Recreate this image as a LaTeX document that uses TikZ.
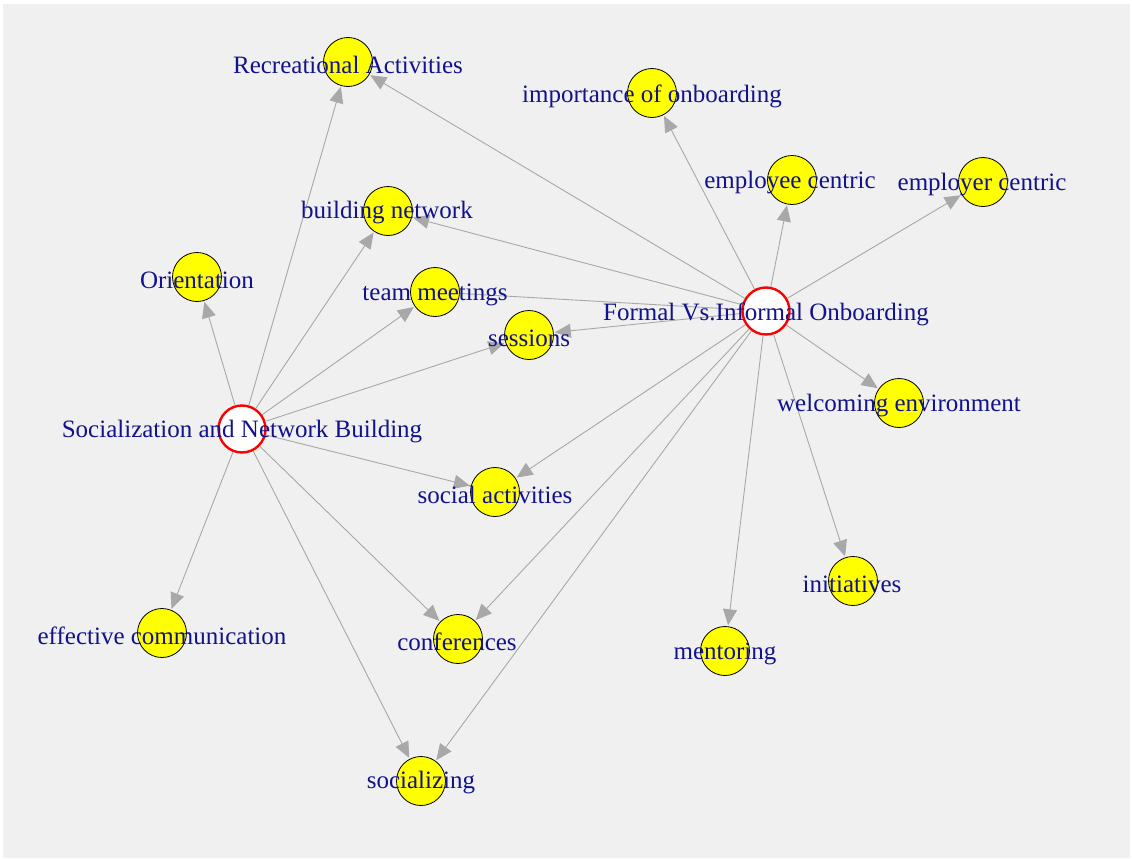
\documentclass[tikz,border=0pt]{standalone}
\usepackage{fontspec}
\setmainfont{Liberation Serif}
\usetikzlibrary{arrows.meta}
\definecolor{bggray}{RGB}{240,240,240}
\definecolor{edgegray}{RGB}{168,168,168}
\definecolor{labblue}{RGB}{18,18,140}
\definecolor{vyellow}{RGB}{255,255,0}
\tikzset{
  leaf/.style={circle,draw=black,line width=0.8pt,fill=vyellow,minimum size=49pt,inner sep=0pt},
  hub/.style={circle,draw=red,line width=2.4pt,fill=white,minimum size=47pt,inner sep=0pt},
  lab/.style={text=labblue,font=\fontsize{25}{30}\selectfont,inner sep=0pt,anchor=center},
  edge/.style={draw=edgegray,line width=0.9pt,-{Triangle[length=16pt,width=14pt]},shorten >=1pt},
  plain/.style={draw=edgegray,line width=0.9pt}
}
\begin{document}
\begin{tikzpicture}[x=1pt,y=-1pt]
\useasboundingbox (0,0) rectangle (1132,859);
\fill[bggray] (3,4) rectangle (1130,858);
% vertices
\node[hub]  (S)   at (242,429) {};
\node[hub]  (F)   at (766,311) {};
\node[leaf] (rec) at (348,62) {};
\node[leaf] (imp) at (652,93) {};
\node[leaf] (eec) at (792,180) {};
\node[leaf] (erc) at (983,182) {};
\node[leaf] (bn)  at (388,211) {};
\node[leaf] (ori) at (197,277) {};
\node[leaf] (tm)  at (435,292) {};
\node[leaf] (ses) at (529,335) {};
\node[leaf] (wel) at (899,403) {};
\node[leaf] (soa) at (495,492) {};
\node[leaf] (ini) at (853,581) {};
\node[leaf] (eff) at (162,633) {};
\node[leaf] (con) at (458,639) {};
\node[leaf] (men) at (725,651) {};
\node[leaf] (soc) at (421,781) {};
% edges from S
\foreach \t in {rec,bn,ori,tm,ses,soa,eff,con,soc}
  \draw[edge] (S) -- (\t);
% edges from F
\foreach \t in {rec,imp,eec,erc,bn,ses,wel,soa,con,soc,men,ini}
  \draw[edge] (F) -- (\t);
\draw[plain] (F) -- (tm);
% labels
\node[lab] (Sl)   at (242,432) {Socialization and Network Building};
\node[lab] (Fl)   at (766,314) {Formal Vs.Informal Onboarding};
\node[lab] (recl) at (348,65) {Recreational Activities};
\node[lab] (impl) at (652,96) {importance of onboarding};
\node[lab] (eecl) at (790,183) {employee centric};
\node[lab] (ercl) at (982,185) {employer centric};
\node[lab] (bnl)  at (387,213) {building network};
\node[lab] (oril) at (197,280) {Orientation};
\node[lab] (tml)  at (435,295) {team meetings};
\node[lab] (sesl) at (529,338) {sessions};
\node[lab] (well) at (899,406) {welcoming environment};
\node[lab] (soal) at (495,495) {social activities};
\node[lab] (inil) at (852,584) {initiatives};
\node[lab] (effl) at (162,636) {effective communication};
\node[lab] (conl) at (457,642) {conferences};
\node[lab] (menl) at (725,654) {mentoring};
\node[lab] (socl) at (421,783) {socializing};
\end{tikzpicture}
\end{document}
